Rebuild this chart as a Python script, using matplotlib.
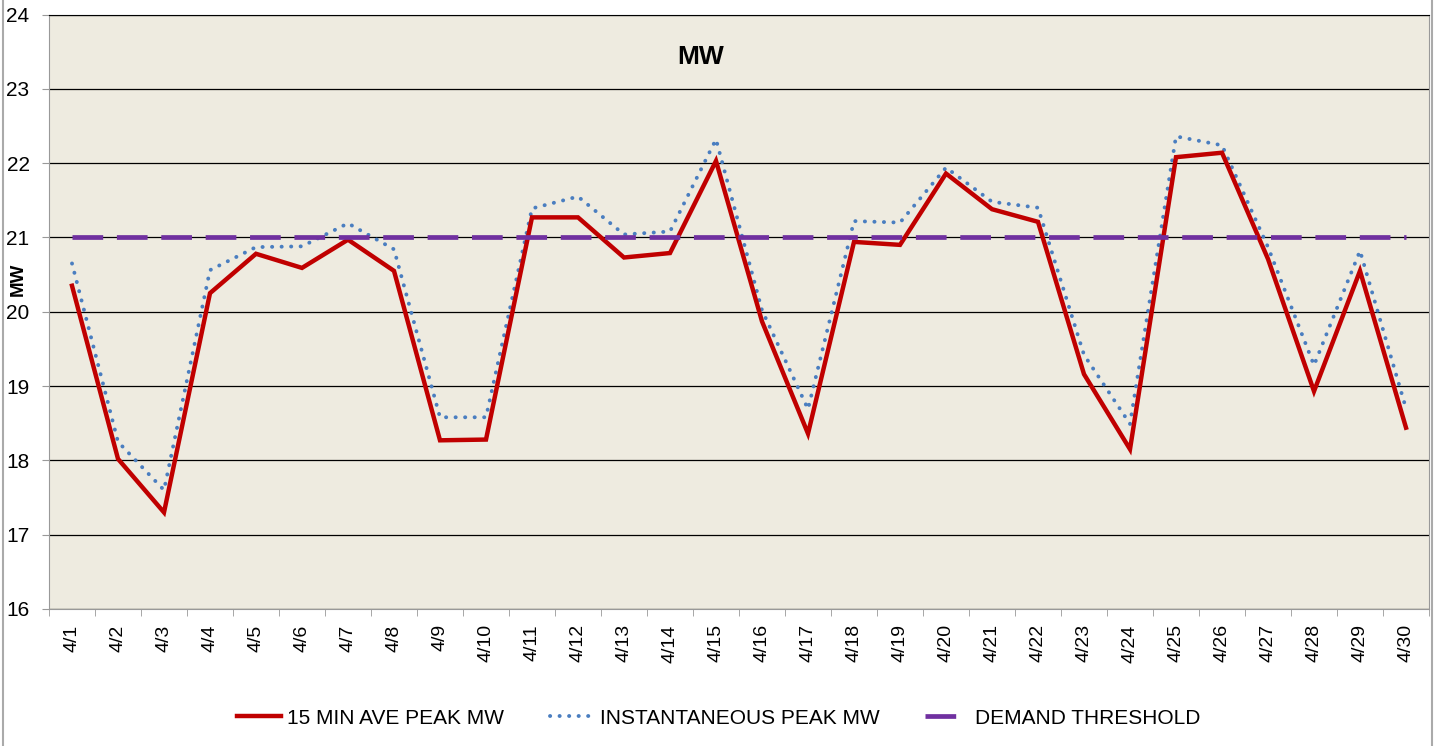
import matplotlib.pyplot as plt
from matplotlib.lines import Line2D

plt.rcParams['font.family'] = ['Liberation Sans', 'DejaVu Sans']

# data
days = [f"4/{d}" for d in range(1, 31)]
ave_15min = [20.35, 18.02, 17.30, 20.25, 20.78, 20.59, 20.97, 20.55, 18.27, 18.28,
             21.27, 21.27, 20.73, 20.79, 22.03, 19.87, 18.36, 20.94, 20.90, 21.86,
             21.38, 21.21, 19.16, 18.15, 22.08, 22.14, 20.71, 18.93, 20.55, 18.44]
inst_peak = [20.65, 18.25, 17.60, 20.56, 20.87, 20.88, 21.19, 20.84, 18.58, 18.58,
             21.39, 21.55, 21.04, 21.08, 22.32, 20.02, 18.69, 21.22, 21.20, 21.94,
             21.48, 21.40, 19.42, 18.49, 22.36, 22.24, 20.87, 19.28, 20.82, 18.70]
threshold = [21.0] * len(days)

fig = plt.figure(figsize=(14.35, 7.46), dpi=100)
ax = fig.add_axes([49/1435, 1 - 609/746, 1380/1435, (609 - 14.5)/746])
ax.set_facecolor('#EEEBE0')

x = list(range(len(days)))
ax.plot(x, ave_15min, color='#C00000', lw=3.2, solid_joinstyle='miter',
        label='15 MIN AVE PEAK MW', zorder=4)
ax.plot(x, inst_peak, color='#4A7EC0', lw=2.8, linestyle=(0, (0.05, 2.4)),
        dash_capstyle='round', label='INSTANTANEOUS PEAK MW', zorder=3)
ax.plot(x, threshold, color='#7030A0', lw=3.4, linestyle=(0, (6.5, 2.9)),
        label='DEMAND THRESHOLD', zorder=5)

ax.set_xlim(-0.5, len(days) - 0.5)
ax.set_ylim(16, 24)
ax.set_yticks(range(16, 25))
ax.grid(axis='y', color='black', lw=0.9)
ax.set_axisbelow(True)

ax.set_xticks(x)
ax.set_xticklabels(days, rotation=90, fontsize=14)
ax.set_xticks([i - 0.5 for i in range(len(days) + 1)], minor=True)
ax.tick_params(axis='x', which='major', length=0, pad=11)
ax.tick_params(axis='x', which='minor', length=5, color='#999999')
ax.tick_params(axis='y', length=5, color='#999999', labelsize=15, pad=9)

for side in ['left', 'bottom', 'right']:
    ax.spines[side].set_color('#999999')
ax.spines['top'].set_color('black')

ax.set_ylabel('MW', fontsize=13.5, fontweight='bold')
ax.yaxis.set_label_coords(-0.016, 0.555)
ax.text(0.472, 0.9285, 'MW', transform=ax.transAxes, ha='center', va='center',
        fontsize=19, fontweight='bold')

fig.legend(loc='center', bbox_to_anchor=(0.501, 1 - 718/746), ncol=3,
           frameon=False, fontsize=15, handlelength=2.1, handletextpad=0.3,
           columnspacing=2.2)

# outer chart border
fig.add_artist(Line2D([2.5/1435, 2.5/1435], [0, 1], color='#AAAAAA', lw=1.5))
fig.add_artist(Line2D([1431.5/1435, 1431.5/1435], [0, 1], color='#AAAAAA', lw=1.5))

fig.savefig('out.png', dpi=100)
